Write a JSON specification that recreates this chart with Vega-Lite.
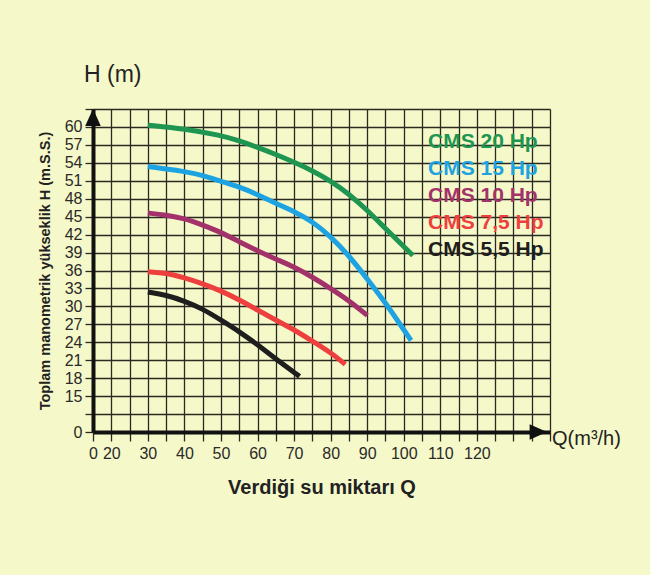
{
  "$schema": "https://vega.github.io/schema/vega-lite/v6.json",
  "autosize": {"type": "none"},
  "width": 457,
  "height": 323,
  "padding": {"left": 93, "top": 109, "right": 100, "bottom": 143},
  "background": "#F5F8C8",
  "config": {
    "view": {"stroke": null},
    "font": "Liberation Sans"
  },
  "title": {
    "text": "H (m)",
    "anchor": "start",
    "frame": "group",
    "fontSize": 23,
    "fontWeight": "normal",
    "color": "#222222",
    "font": "Liberation Sans",
    "dx": -9,
    "offset": 14
  },
  "datasets": {
    "curves": [
      {"model": "CMS 20 Hp", "Q": 30, "H": 60.3},
      {"model": "CMS 20 Hp", "Q": 40, "H": 59.7},
      {"model": "CMS 20 Hp", "Q": 50, "H": 58.6},
      {"model": "CMS 20 Hp", "Q": 55, "H": 57.7},
      {"model": "CMS 20 Hp", "Q": 60, "H": 56.6},
      {"model": "CMS 20 Hp", "Q": 65, "H": 55.4},
      {"model": "CMS 20 Hp", "Q": 70, "H": 54.1},
      {"model": "CMS 20 Hp", "Q": 75, "H": 52.7},
      {"model": "CMS 20 Hp", "Q": 80, "H": 51.0},
      {"model": "CMS 20 Hp", "Q": 85, "H": 48.8},
      {"model": "CMS 20 Hp", "Q": 90, "H": 46.1},
      {"model": "CMS 20 Hp", "Q": 95, "H": 43.0},
      {"model": "CMS 20 Hp", "Q": 100, "H": 40.0},
      {"model": "CMS 20 Hp", "Q": 102.5, "H": 38.5},
      {"model": "CMS 15 Hp", "Q": 30, "H": 53.4},
      {"model": "CMS 15 Hp", "Q": 40, "H": 52.6},
      {"model": "CMS 15 Hp", "Q": 45, "H": 51.9},
      {"model": "CMS 15 Hp", "Q": 50, "H": 50.9},
      {"model": "CMS 15 Hp", "Q": 55, "H": 50.0},
      {"model": "CMS 15 Hp", "Q": 60, "H": 48.7},
      {"model": "CMS 15 Hp", "Q": 65, "H": 47.2},
      {"model": "CMS 15 Hp", "Q": 70, "H": 45.9},
      {"model": "CMS 15 Hp", "Q": 75, "H": 44.2},
      {"model": "CMS 15 Hp", "Q": 80, "H": 41.7},
      {"model": "CMS 15 Hp", "Q": 85, "H": 38.5},
      {"model": "CMS 15 Hp", "Q": 90, "H": 34.6},
      {"model": "CMS 15 Hp", "Q": 95, "H": 30.6},
      {"model": "CMS 15 Hp", "Q": 100, "H": 26.1},
      {"model": "CMS 15 Hp", "Q": 102, "H": 24.3},
      {"model": "CMS 10 Hp", "Q": 30, "H": 45.6},
      {"model": "CMS 10 Hp", "Q": 35, "H": 45.3},
      {"model": "CMS 10 Hp", "Q": 40, "H": 44.7},
      {"model": "CMS 10 Hp", "Q": 45, "H": 43.6},
      {"model": "CMS 10 Hp", "Q": 50, "H": 42.4},
      {"model": "CMS 10 Hp", "Q": 55, "H": 40.8},
      {"model": "CMS 10 Hp", "Q": 60, "H": 39.3},
      {"model": "CMS 10 Hp", "Q": 65, "H": 37.9},
      {"model": "CMS 10 Hp", "Q": 70, "H": 36.6},
      {"model": "CMS 10 Hp", "Q": 75, "H": 34.9},
      {"model": "CMS 10 Hp", "Q": 80, "H": 33.0},
      {"model": "CMS 10 Hp", "Q": 85, "H": 31.0},
      {"model": "CMS 10 Hp", "Q": 90, "H": 28.5},
      {"model": "CMS 7,5 Hp", "Q": 30, "H": 35.8},
      {"model": "CMS 7,5 Hp", "Q": 35, "H": 35.6},
      {"model": "CMS 7,5 Hp", "Q": 40, "H": 34.8},
      {"model": "CMS 7,5 Hp", "Q": 45, "H": 33.8},
      {"model": "CMS 7,5 Hp", "Q": 50, "H": 32.6},
      {"model": "CMS 7,5 Hp", "Q": 55, "H": 31.1},
      {"model": "CMS 7,5 Hp", "Q": 60, "H": 29.4},
      {"model": "CMS 7,5 Hp", "Q": 65, "H": 27.7},
      {"model": "CMS 7,5 Hp", "Q": 70, "H": 26.1},
      {"model": "CMS 7,5 Hp", "Q": 75, "H": 24.2},
      {"model": "CMS 7,5 Hp", "Q": 80, "H": 22.3},
      {"model": "CMS 7,5 Hp", "Q": 84, "H": 20.3},
      {"model": "CMS 5,5 Hp", "Q": 30, "H": 32.4},
      {"model": "CMS 5,5 Hp", "Q": 35, "H": 31.9},
      {"model": "CMS 5,5 Hp", "Q": 40, "H": 30.9},
      {"model": "CMS 5,5 Hp", "Q": 45, "H": 29.6},
      {"model": "CMS 5,5 Hp", "Q": 50, "H": 27.7},
      {"model": "CMS 5,5 Hp", "Q": 55, "H": 25.8},
      {"model": "CMS 5,5 Hp", "Q": 60, "H": 23.6},
      {"model": "CMS 5,5 Hp", "Q": 65, "H": 21.2},
      {"model": "CMS 5,5 Hp", "Q": 71.5, "H": 18.3}
    ],
    "arrows": [
      {"axis": "y", "Q": 15, "H": 61.6},
      {"axis": "x", "Q": 136.8, "H": 9}
    ],
    "unit": [
      {"Q": 140, "H": 9, "label": "Q(m³/h)"}
    ]
  },
  "layer": [
    {
      "data": {"name": "curves"},
      "mark": {"type": "line", "strokeWidth": 5, "interpolate": "basis", "strokeCap": "butt"},
      "encoding": {
        "x": {
          "field": "Q", "type": "quantitative",
          "scale": {"domain": [15, 140], "nice": false, "zero": false},
          "axis": {
            "values": [15, 20, 25, 30, 35, 40, 45, 50, 55, 60, 65, 70, 75, 80, 85, 90, 95, 100, 105, 110, 115, 120, 125, 130, 135, 140],
            "tickCount": 200,
            "format": "d",
            "labelExpr": "datum.value == 15 ? '0' : ((datum.value % 10 == 0 && datum.value <= 120) ? datum.label : '')",
            "grid": true, "gridColor": "#2a2a22", "gridWidth": 1.3, "gridOpacity": 1,
            "domain": true, "domainColor": "#111111", "domainWidth": 4,
            "ticks": true, "tickSize": 9, "tickColor": "#2a2a22", "tickWidth": 1.3,
            "labelFontSize": 16, "labelColor": "#2a2a2a", "labelPadding": 4, "labelFont": "Liberation Sans",
            "labelOverlap": false, "labelFlush": false,
            "title": "Verdiği su miktarı Q",
            "titleFontSize": 20, "titleFontWeight": "bold", "titleColor": "#222222",
            "titleFont": "Liberation Sans", "titlePadding": 16
          }
        },
        "y": {
          "field": "H", "type": "quantitative",
          "scale": {"domain": [9, 63], "nice": false, "zero": false},
          "axis": {
            "values": [9, 12, 15, 18, 21, 24, 27, 30, 33, 36, 39, 42, 45, 48, 51, 54, 57, 60, 63],
            "tickCount": 200,
            "format": "d",
            "labelExpr": "datum.value == 9 ? '0' : ((datum.value == 12 || datum.value == 63) ? '' : datum.label)",
            "grid": true, "gridColor": "#2a2a22", "gridWidth": 1.3, "gridOpacity": 1,
            "domain": true, "domainColor": "#111111", "domainWidth": 4,
            "ticks": true, "tickSize": 8, "tickColor": "#2a2a22", "tickWidth": 1.3,
            "labelFontSize": 16, "labelColor": "#2a2a2a", "labelPadding": 3, "labelFont": "Liberation Sans",
            "labelOverlap": false, "labelFlush": false,
            "title": "Toplam manometrik yükseklik H (m.S.S.)",
            "titleFontSize": 14.5, "titleFontWeight": "bold", "titleColor": "#222222",
            "titleFont": "Liberation Sans", "titlePadding": 12
          }
        },
        "color": {
          "field": "model", "type": "nominal",
          "scale": {
            "domain": ["CMS 20 Hp", "CMS 15 Hp", "CMS 10 Hp", "CMS 7,5 Hp", "CMS 5,5 Hp"],
            "range": ["#1F9552", "#1EA3E2", "#A3326B", "#EE3F3F", "#1E1E1E"]
          },
          "legend": {
            "orient": "none",
            "legendX": 314,
            "legendY": 22,
            "title": null,
            "symbolType": "circle",
            "symbolSize": 0,
            "symbolOpacity": 0,
            "symbolStrokeWidth": 0,
            "labelOffset": 0,
            "labelFontSize": 21,
            "labelFontWeight": "bold",
            "labelFont": "Liberation Sans",
            "labelLimit": 300,
            "rowPadding": 5,
            "encode": {
              "labels": {"update": {"fill": {"scale": "color", "field": "value"}}}
            }
          }
        }
      }
    },
    {
      "data": {"name": "arrows"},
      "mark": {"type": "point", "filled": true, "size": 300, "color": "#111111", "opacity": 1},
      "encoding": {
        "x": {"field": "Q", "type": "quantitative"},
        "y": {"field": "H", "type": "quantitative"},
        "shape": {
          "field": "axis", "type": "nominal",
          "scale": {"domain": ["y", "x"], "range": ["M0,-1L-0.9,1L0.9,1Z", "M1,0L-1,-0.9L-1,0.9Z"]},
          "legend": null
        }
      }
    },
    {
      "data": {"name": "unit"},
      "mark": {"type": "text", "align": "left", "baseline": "middle", "dx": 2, "dy": 7, "fontSize": 20, "font": "Liberation Sans", "color": "#222222"},
      "encoding": {
        "x": {"field": "Q", "type": "quantitative"},
        "y": {"field": "H", "type": "quantitative"},
        "text": {"field": "label"}
      }
    }
  ]
}
